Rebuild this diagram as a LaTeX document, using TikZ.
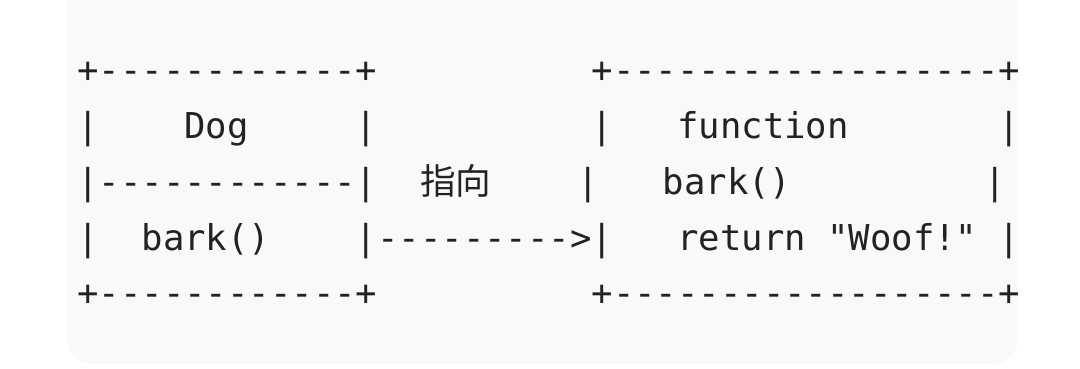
\documentclass[tikz,border=0pt]{standalone}
\usepackage{fontspec}
\setmonofont{DejaVu Sans Mono}
\newfontfamily\cjk{Noto Sans CJK SC}
\definecolor{ink}{HTML}{222222}
\definecolor{panel}{HTML}{F9F9F9}
\begin{document}
\begin{tikzpicture}[x=1pt,y=-1pt,
  txt/.style={anchor=base west,inner sep=0pt,outer sep=0pt,text=ink,
    font=\fontsize{35.6}{40}\selectfont\ttfamily}]
\useasboundingbox (0,0) rectangle (1080,368);
\fill[white] (0,0) rectangle (1080,368);
\fill[panel,rounded corners=26pt] (67,-40) rectangle (1018,364);
\def\xo{77.3}
\def\cw{21.43}
% line 1
\node[txt] (a1) at ({\xo+0*\cw},82) {+------------+};
\node[txt] (b1) at ({\xo+24*\cw},82) {+------------------+};
% line 2
\node[txt] (a2l) at ({\xo+0*\cw},138) {|};
\node[txt] (dog) at ({\xo+5*\cw},138) {Dog};
\node[txt] (a2r) at ({\xo+13*\cw},138) {|};
\node[txt] (b2l) at ({\xo+24*\cw},138) {|};
\node[txt] (fn) at ({\xo+28*\cw},138) {function};
\node[txt] (b2r) at ({\xo+43*\cw},138) {|};
% line 3
\node[txt] (a3) at ({\xo+0*\cw},194) {|------------|};
\node[txt,font=\fontsize{35.6}{40}\selectfont\cjk] (lab) at (420.2,194) {指向};
\node[txt] (b3l) at (577.1,194) {|};
\node[txt] (bk2) at (662.8,194) {bark()};
\node[txt] (b3r) at (984.3,194) {|};
% line 4
\node[txt] (a4l) at ({\xo+0*\cw},250) {|};
\node[txt] (bk1) at ({\xo+3*\cw},250) {bark()};
\node[txt] (arr) at ({\xo+13*\cw},250) {|--------->|};
\node[txt] (ret) at ({\xo+28*\cw},250) {return "Woof!"};
\node[txt] (b4r) at ({\xo+43*\cw},250) {|};
% line 5
\node[txt] (a5) at ({\xo+0*\cw},305) {+------------+};
\node[txt] (b5) at ({\xo+24*\cw},305) {+------------------+};
\end{tikzpicture}
\end{document}
